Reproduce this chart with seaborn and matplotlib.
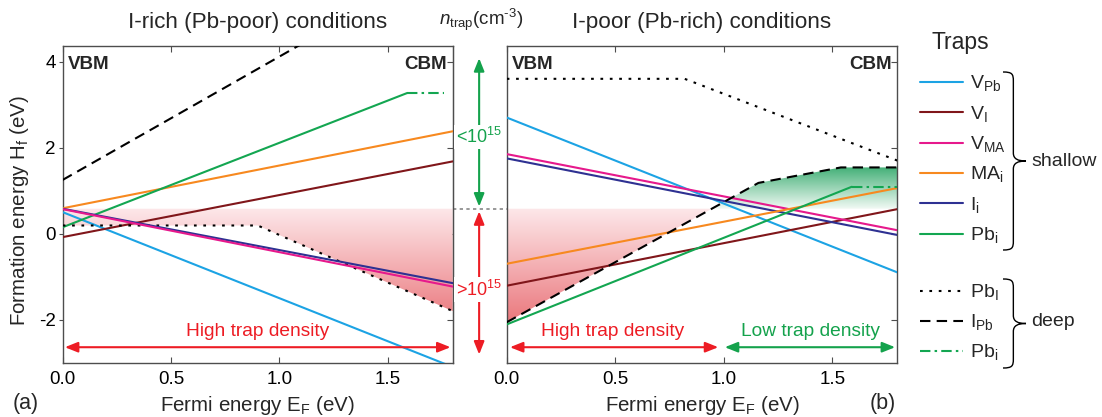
"""
plot.py: formation energies of traps, I-rich vs I-poor
"""

import numpy as np
import matplotlib
matplotlib.use('Agg')
import matplotlib.pyplot as plt
from matplotlib.colors import LinearSegmentedColormap
from matplotlib.path import Path
from matplotlib.patches import PathPatch
import seaborn as sns

sns.set_style('ticks')
plt.rcParams['font.family'] = ['Liberation Sans', 'DejaVu Sans']
plt.rcParams['mathtext.fontset'] = 'custom'
plt.rcParams['mathtext.rm'] = 'Liberation Sans'
plt.rcParams['mathtext.it'] = 'Liberation Sans:italic'
plt.rcParams['mathtext.bf'] = 'Liberation Sans:bold'
plt.rcParams['axes.edgecolor'] = '#4d4d4d'
plt.rcParams['xtick.color'] = '#4d4d4d'
plt.rcParams['ytick.color'] = '#4d4d4d'
plt.rcParams['xtick.labelcolor'] = 'black'
plt.rcParams['ytick.labelcolor'] = 'black'

# data (eV)
ef = [0.0, 1.8]
n_trap_limit = 0.58

# I-rich (Pb-poor)
rich_vpb = [0.50, -3.10]
rich_vi = [-0.08, 1.68]
rich_vma = [0.57, -1.23]
rich_ii = [0.58, -1.15]
rich_mai = [0.59, 2.38]
rich_pbi_x = [0.0, 1.59]
rich_pbi = [0.15, 3.27]
rich_pbi_deep_x = [1.59, 1.76]
rich_pbi_deep = [3.27, 3.27]
rich_ipb = [1.25, 6.41]
rich_pbl_x = [0.0, 0.90, 1.80]
rich_pbl = [0.19, 0.19, -1.80]

# I-poor (Pb-rich)
poor_vpb = [2.70, -0.90]
poor_vi = [-1.21, 0.57]
poor_vma = [1.85, 0.08]
poor_ii = [1.75, -0.03]
poor_mai = [-0.70, 1.06]
poor_pbi_x = [0.0, 1.59]
poor_pbi = [-2.11, 1.09]
poor_pbi_deep_x = [1.59, 1.80]
poor_pbi_deep = [1.09, 1.09]
poor_ipb_x = [0.0, 1.16, 1.54, 1.80]
poor_ipb = [-2.06, 1.18, 1.54, 1.54]
poor_pbl_x = [0.0, 0.82, 1.80]
poor_pbl = [3.60, 3.60, 1.70]

c_vpb = '#1ca3e4'
c_vi = '#80161a'
c_vma = '#e6198c'
c_mai = '#f7891f'
c_ii = '#2e3192'
c_pbi = '#13a651'
red = '#ed1c24'
green = '#14a24c'

dot = (0, (1.3, 3.2))
dash = (0, (5, 3))
dashdot = (0, (5, 2, 1.2, 2))

legend_items = [('V$_\\mathrm{Pb}$', c_vpb, '-'), ('V$_\\mathrm{I}$', c_vi, '-'),
                ('V$_\\mathrm{MA}$', c_vma, '-'), ('MA$_\\mathrm{i}$', c_mai, '-'),
                ('I$_\\mathrm{i}$', c_ii, '-'), ('Pb$_\\mathrm{i}$', c_pbi, '-'),
                ('Pb$_\\mathrm{I}$', 'black', dot), ('I$_\\mathrm{Pb}$', 'black', dash),
                ('Pb$_\\mathrm{i}$', c_pbi, dashdot)]

reds = LinearSegmentedColormap.from_list('reds', ['#ea767b', '#fde8ea'])
greens = LinearSegmentedColormap.from_list('greens', ['#f2faf5', '#3fae74'])


def line(ax, x, y, color, ls='-'):
    sns.lineplot(x=x, y=y, ax=ax, color=color, lw=1.5, linestyle=ls,
                 estimator=None, sort=False, zorder=3)


def gradient_fill(ax, x, y, mask, cmap, ylo, yhi):
    poly = ax.fill_between(x, y, n_trap_limit, where=mask, interpolate=True,
                           facecolor='none', edgecolor='none')
    grad = np.linspace(0, 1, 256).reshape(-1, 1)
    im = ax.imshow(grad, extent=[0, 1.8, ylo, yhi], origin='lower',
                   aspect='auto', cmap=cmap, zorder=1)
    im.set_clip_path(poly.get_paths()[0], transform=ax.transData)


def brace(ax, x, y0, y1, w):
    ym = (y0 + y1) / 2
    xm = x + 0.45 * w
    verts = [(x, y0), (x + 0.4 * w, y0), (xm, y0 + 2), (xm, y0 + 9),
             (xm, ym - 8),
             (xm, ym - 2), (x + 0.65 * w, ym), (x + w, ym),
             (x + 0.65 * w, ym), (xm, ym + 2), (xm, ym + 8),
             (xm, y1 - 9),
             (xm, y1 - 2), (x + 0.4 * w, y1), (x, y1)]
    codes = [Path.MOVETO] + [Path.CURVE4] * 3 + [Path.LINETO] + [Path.CURVE4] * 6 + \
            [Path.LINETO] + [Path.CURVE4] * 3
    ax.add_patch(PathPatch(Path(verts, codes), fc='none', ec='black', lw=1.0))


fig = plt.figure(figsize=(11.02, 4.17), dpi=100)
ax1 = fig.add_axes([62.7 / 1102, 1 - 362.7 / 417, 390 / 1102, 317 / 417])
ax2 = fig.add_axes([506.7 / 1102, 1 - 362.7 / 417, 390.6 / 1102, 317 / 417])

# (a) I-rich
gradient_fill(ax1, rich_pbl_x, rich_pbl, np.array(rich_pbl) < n_trap_limit,
              reds, -2.1, n_trap_limit)
line(ax1, ef, rich_vpb, c_vpb)
line(ax1, ef, rich_vi, c_vi)
line(ax1, ef, rich_mai, c_mai)
line(ax1, rich_pbi_x, rich_pbi, c_pbi)
line(ax1, rich_pbi_deep_x, rich_pbi_deep, c_pbi, dashdot)
line(ax1, ef, rich_ipb, 'black', dash)
line(ax1, rich_pbl_x, rich_pbl, 'black', dot)
line(ax1, ef, rich_ii, c_ii)
line(ax1, ef, rich_vma, c_vma)

# (b) I-poor
gradient_fill(ax2, poor_ipb_x, poor_ipb, np.array(poor_ipb) < n_trap_limit,
              reds, -2.1, n_trap_limit)
gradient_fill(ax2, poor_ipb_x, poor_ipb, np.array(poor_ipb) > n_trap_limit,
              greens, n_trap_limit, 1.56)
line(ax2, ef, poor_vpb, c_vpb)
line(ax2, ef, poor_vi, c_vi)
line(ax2, ef, poor_vma, c_vma)
line(ax2, ef, poor_ii, c_ii)
line(ax2, ef, poor_mai, c_mai)
line(ax2, poor_pbi_x, poor_pbi, c_pbi)
line(ax2, poor_pbi_deep_x, poor_pbi_deep, c_pbi, dashdot)
line(ax2, poor_ipb_x, poor_ipb, 'black', dash)
line(ax2, poor_pbl_x, poor_pbl, 'black', dot)

arrow = '<|-|>,head_length=0.55,head_width=0.22'
for ax, title in [(ax1, 'I-rich (Pb-poor) conditions'),
                  (ax2, 'I-poor (Pb-rich) conditions')]:
    ax.set_xlim(0, 1.8)
    ax.set_ylim(-3, 4.37)
    ax.set_xticks([0, 0.5, 1.0, 1.5])
    ax.set_xticklabels(['0.0', '0.5', '1.0', '1.5'])
    ax.set_yticks([-2, 0, 2, 4])
    ax.tick_params(axis='x', direction='in', top=True, length=4, width=0.8,
                   labelsize=13.5, pad=6)
    ax.set_xlabel('Fermi energy E$_\\mathrm{F}$ (eV)', fontsize=14.8)
    ax.xaxis.set_label_coords(0.5, -0.10)
    ax.text(0.5, 1.072, title, transform=ax.transAxes, ha='center', va='center',
            fontsize=16.2)
    ax.text(0.014, 0.94, 'VBM', transform=ax.transAxes, ha='left', va='center',
            fontsize=13.5, fontweight='bold')
    ax.text(0.986, 0.94, 'CBM', transform=ax.transAxes, ha='right', va='center',
            fontsize=13.5, fontweight='bold')
    for s in ax.spines.values():
        s.set_linewidth(1.0)

ax1.tick_params(axis='y', direction='out', left=True, right=False, length=3,
                width=0.8, labelsize=13.5, pad=2)
ax1.set_yticklabels(['-2', '0', '2', '4'])
sec = ax1.secondary_yaxis('right')
sec.set_yticks([-2, 0, 2, 4])
sec.tick_params(direction='in', length=4, width=0.8, labelright=False)
ax1.set_ylabel('Formation energy H$_\\mathrm{f}$ (eV)', fontsize=14.8)
ax1.yaxis.set_label_coords(-0.08, 0.48)

ax2.tick_params(axis='y', direction='in', left=False, right=True, length=4,
                width=0.8, labelleft=False)
ax2.set_ylabel('')

# trap density arrows
ax1.annotate('', xy=(0.01, -2.64), xytext=(1.79, -2.64),
             arrowprops=dict(arrowstyle=arrow, color=red, lw=1.5,
                             shrinkA=0, shrinkB=0, mutation_scale=14))
ax1.text(0.9, -2.27, 'High trap density', color=red, fontsize=13.8,
         ha='center', va='center')
ax2.annotate('', xy=(0.015, -2.64), xytext=(0.975, -2.64),
             arrowprops=dict(arrowstyle=arrow, color=red, lw=1.5,
                             shrinkA=0, shrinkB=0, mutation_scale=14))
ax2.text(0.49, -2.27, 'High trap density', color=red, fontsize=13.8,
         ha='center', va='center')
ax2.annotate('', xy=(1.005, -2.64), xytext=(1.79, -2.64),
             arrowprops=dict(arrowstyle=arrow, color=green, lw=1.5,
                             shrinkA=0, shrinkB=0, mutation_scale=14))
ax2.text(1.40, -2.27, 'Low trap density', color=green, fontsize=13.8,
         ha='center', va='center')

# n_trap scale between the panels
xm = 1.922
ax1.plot([1.8, 2.05], [n_trap_limit, n_trap_limit], color='#888888', lw=1.2,
         linestyle=(0, (2, 2)), clip_on=False)
ax1.annotate('', xy=(xm, 4.08), xytext=(xm, 0.63), annotation_clip=False,
             arrowprops=dict(arrowstyle=arrow, color=green, lw=1.5,
                             shrinkA=0, shrinkB=0, mutation_scale=14))
ax1.annotate('', xy=(xm, -2.81), xytext=(xm, 0.52), annotation_clip=False,
             arrowprops=dict(arrowstyle=arrow, color=red, lw=1.5,
                             shrinkA=0, shrinkB=0, mutation_scale=14))
ax1.text(xm, 2.25, '<10$^{15}$', color=green, fontsize=13, ha='center',
         va='center', clip_on=False,
         bbox=dict(fc='white', ec='none', pad=1.5))
ax1.text(xm, -1.30, '>10$^{15}$', color=red, fontsize=13, ha='center',
         va='center', clip_on=False,
         bbox=dict(fc='white', ec='none', pad=1.5))
fig.text(481 / 1102, 1 - 20 / 417, '$n_\\mathrm{trap}$(cm$^{\\text{-3}}$)',
         fontsize=13.5, ha='center', va='center')

fig.text(26 / 1102, 1 - 404 / 417, '(a)', fontsize=15.5, ha='center', va='center')
fig.text(883 / 1102, 1 - 404 / 417, '(b)', fontsize=15.5, ha='center', va='center')

# legend, drawn in pixel coordinates
axl = fig.add_axes([900 / 1102, 0, 202 / 1102, 1])
axl.set_xlim(900, 1102)
axl.set_ylim(417, 0)
axl.axis('off')
axl.text(931.7, 42.7, 'Traps', fontsize=16.5, ha='left', va='center')
rows = [81.5, 112, 142.5, 172.5, 203, 233.5, 290.5, 320.5, 350.5]
for (lab, col, ls), yy in zip(legend_items, rows):
    axl.plot([920, 963], [yy, yy], color=col, lw=1.5, linestyle=ls)
    axl.text(970.5, yy + 6.8, lab, fontsize=14, ha='left', va='baseline')
brace(axl, 1003, 72, 250, 23)
brace(axl, 1003, 279, 368, 23)
axl.text(1031.5, 161, 'shallow', fontsize=14, ha='left', va='center')
axl.text(1031.5, 322, 'deep', fontsize=14, ha='left', va='center')

fig.savefig('out.png', dpi=100)
